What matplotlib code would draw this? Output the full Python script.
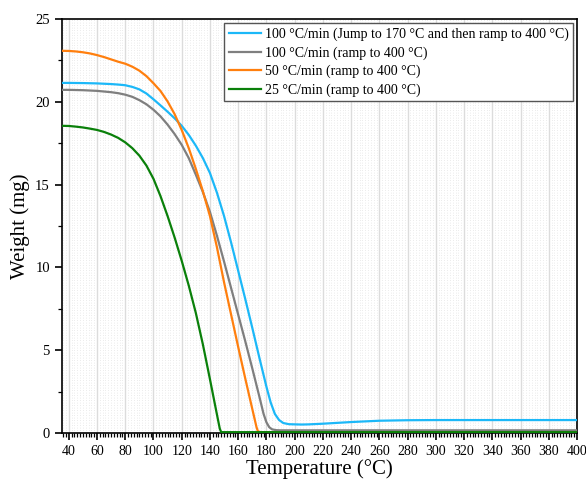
import matplotlib
matplotlib.use("Agg")
import matplotlib.pyplot as plt
from matplotlib.ticker import MultipleLocator

plt.rcParams["font.family"] = ["Liberation Serif", "DejaVu Serif"]

# 100 C/min, jump to 170 C then ramp to 400 C
t_jump = [35, 40, 50, 60, 70, 75, 80, 85, 90, 95, 100, 105, 110, 115, 120, 125,
          130, 135, 140, 145, 150, 155, 160, 165, 170, 175, 180, 183, 186, 189,
          192, 196, 200, 205, 210, 220, 240, 260, 280, 300, 400]
w_jump = [21.14, 21.14, 21.13, 21.11, 21.07, 21.04, 21.0, 20.9, 20.75, 20.5,
          20.15, 19.78, 19.4, 19.0, 18.55, 18.0, 17.35, 16.6, 15.7, 14.5, 13.1,
          11.5, 9.8, 8.1, 6.35, 4.55, 2.8, 1.85, 1.15, 0.78, 0.6, 0.53, 0.52,
          0.51, 0.52, 0.56, 0.66, 0.74, 0.77, 0.78, 0.78]

# 100 C/min ramp
t_100 = [35, 40, 50, 60, 70, 75, 80, 85, 90, 95, 100, 105, 110, 115, 120, 125,
         130, 135, 140, 145, 150, 155, 160, 165, 170, 175, 178, 180, 182, 184,
         187, 190, 400]
w_100 = [20.72, 20.72, 20.7, 20.66, 20.58, 20.52, 20.43, 20.3, 20.1, 19.85,
         19.52, 19.12, 18.62, 18.05, 17.4, 16.6, 15.6, 14.55, 13.35, 11.9, 10.35,
         8.75, 7.15, 5.55, 3.9, 2.2, 1.15, 0.65, 0.35, 0.22, 0.17, 0.16, 0.16]

# 50 C/min ramp
t_50 = [35, 40, 45, 50, 55, 60, 65, 70, 75, 80, 85, 90, 95, 100, 105, 110, 115,
        120, 125, 130, 135, 140, 145, 150, 155, 160, 165, 170, 173, 174, 176, 400]
w_50 = [23.08, 23.07, 23.04, 22.99, 22.92, 22.82, 22.7, 22.56, 22.42, 22.3,
        22.12, 21.88, 21.55, 21.12, 20.65, 20.02, 19.25, 18.3, 17.2, 15.95, 14.6,
        13.1, 11.2, 9.1, 7.15, 5.2, 3.3, 1.45, 0.35, 0.1, 0.05, 0.05]

# 25 C/min ramp
t_25 = [35, 40, 45, 50, 55, 60, 65, 70, 75, 80, 85, 90, 95, 100, 105, 110, 115,
        120, 125, 130, 135, 140, 145, 147, 148, 400]
w_25 = [18.55, 18.54, 18.5, 18.45, 18.38, 18.3, 18.18, 18.02, 17.82, 17.55,
        17.2, 16.75, 16.15, 15.35, 14.3, 13.1, 11.8, 10.4, 8.9, 7.25, 5.35, 3.25,
        1.1, 0.25, 0.05, 0.05]

labels = ["100 °C/min (Jump to 170 °C and then ramp to 400 °C)",
          "100 °C/min (ramp to 400 °C)",
          "50 °C/min (ramp to 400 °C)",
          "25 °C/min (ramp to 400 °C)"]
colors = ["#1cb8f8", "#7f7f7f", "#ff7f0e", "#0a800a"]

fig = plt.figure(figsize=(5.86, 4.82), dpi=100)
ax = fig.add_axes([0.1053, 0.1017, 0.8793, 0.8589])

series = [(t_jump, w_jump), (t_100, w_100), (t_50, w_50), (t_25, w_25)]
for (t, w), lab, c in zip(series, labels, colors):
    ax.plot(t, w, color=c, lw=1.6, label=lab, zorder=3, solid_joinstyle="round")

ax.set_xlim(35, 400)
ax.set_ylim(0, 25)
ax.xaxis.set_major_locator(MultipleLocator(20))
ax.xaxis.set_minor_locator(MultipleLocator(2))
ax.yaxis.set_major_locator(MultipleLocator(5))
ax.yaxis.set_minor_locator(MultipleLocator(2.5))
ax.set_xticks(range(40, 401, 20))

ax.grid(which="major", axis="x", color="#dcdcdc", lw=1.0, zorder=0)
ax.grid(which="minor", axis="x", color="#e4e4e4", lw=0.6, ls=(0, (1, 2)), zorder=0)
ax.set_axisbelow(True)

ax.tick_params(which="major", direction="out", length=5, width=1.2, labelsize=10)
ax.tick_params(axis="y", which="major", labelsize=10.5)
ax.tick_params(which="minor", direction="out", length=3, width=0.9)
for s in ax.spines.values():
    s.set_linewidth(1.2)

ax.set_xlabel("Temperature (°C)", fontsize=15, labelpad=1)
ax.set_ylabel("Weight (mg)", fontsize=15, labelpad=4)

leg = ax.legend(loc="upper right", fontsize=10, frameon=True, fancybox=False,
                handlelength=2.3, handletextpad=0.3, labelspacing=0.38,
                borderpad=0.3, borderaxespad=0.3)
leg.get_frame().set_edgecolor("#555555")
leg.get_frame().set_linewidth(1.0)
leg.get_frame().set_alpha(1)

fig.savefig("out.png", dpi=100)
